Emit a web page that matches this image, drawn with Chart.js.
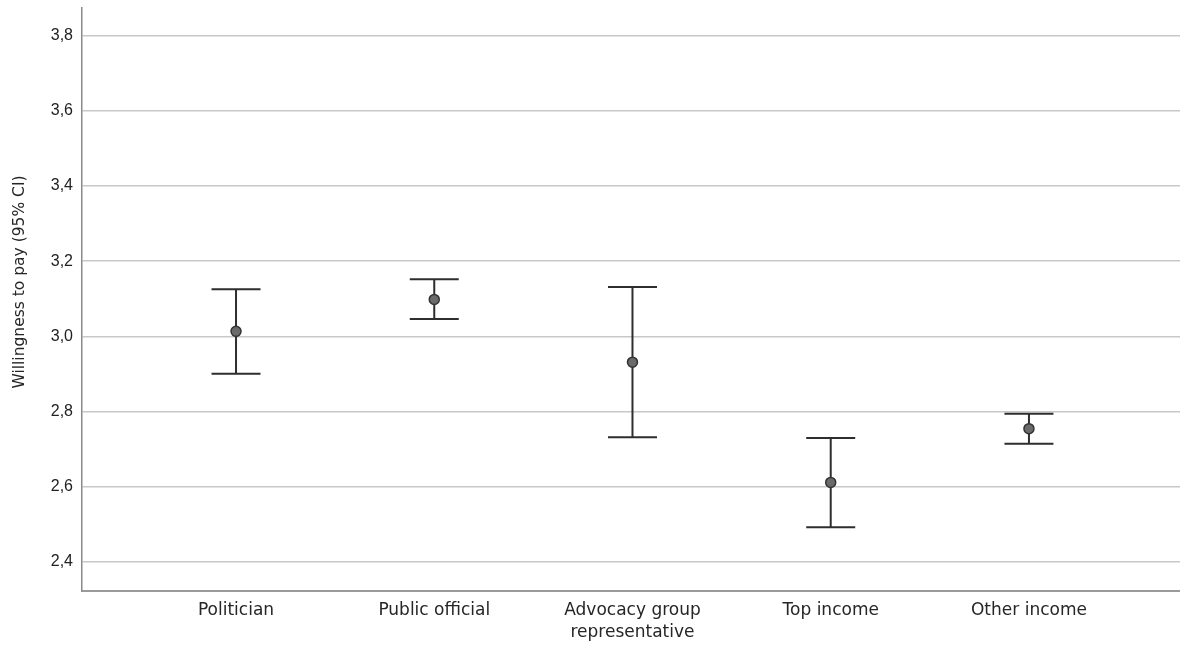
<!DOCTYPE html>
<html>
<head>
<meta charset="utf-8">
<script src="https://cdn.jsdelivr.net/npm/chart.js@4/dist/chart.umd.min.js"></script>
<style>
  html, body { margin: 0; padding: 0; background: #ffffff; }
  #wrap { width: 1180px; height: 648px; position: relative; }
</style>
</head>
<body>
<div id="wrap"><canvas id="c" width="1180" height="648"></canvas></div>
<script>
// Groups along the x axis (multi-line labels as arrays)
const categories = [
  ['Politician'],
  ['Public official'],
  ['Advocacy group', 'representative'],
  ['Top income'],
  ['Other income']
];
// Mean willingness to pay and 95% confidence bounds per group
const means = [3.013, 3.098, 2.931, 2.611, 2.754];
const lowerCI = [2.900, 3.046, 2.731, 2.492, 2.714];
const upperCI = [3.125, 3.152, 3.131, 2.729, 2.794];
// Y axis tick values
const yTicks = [2.4, 2.6, 2.8, 3.0, 3.2, 3.4, 3.6, 3.8];
const yTitle = 'Willingness to pay (95% CI)';

const LABEL_FONT = '"DejaVu Sans", sans-serif';
const TICK_FONT = '"Liberation Sans", Arial, sans-serif';

// Whiskers with end caps drawn under the mean markers
const errorBars = {
  id: 'errorBars',
  beforeDatasetsDraw(chart) {
    const { ctx, scales } = chart;
    const xs = scales.x, ys = scales.y;
    const capHalf = 24.5;
    ctx.save();
    ctx.strokeStyle = '#2e2e2e';
    ctx.lineWidth = 2;
    ctx.lineCap = 'butt';
    means.forEach((m, i) => {
      const x = xs.getPixelForValue(i);
      const yLo = ys.getPixelForValue(lowerCI[i]);
      const yHi = ys.getPixelForValue(upperCI[i]);
      ctx.beginPath();
      ctx.moveTo(x, yHi);
      ctx.lineTo(x, yLo);
      ctx.moveTo(x - capHalf, yHi);
      ctx.lineTo(x + capHalf, yHi);
      ctx.moveTo(x - capHalf, yLo);
      ctx.lineTo(x + capHalf, yLo);
      ctx.stroke();
    });
    ctx.restore();
  }
};

new Chart(document.getElementById('c'), {
  type: 'scatter',
  data: {
    datasets: [{
      data: means.map((m, i) => ({ x: i, y: m })),
      pointRadius: 5,
      pointHoverRadius: 5,
      pointBackgroundColor: '#6a6a6a',
      pointBorderColor: '#333333',
      pointBorderWidth: 1.5
    }]
  },
  options: {
    responsive: false,
    animation: false,
    layout: { autoPadding: false, padding: { top: 7.5, right: 0, left: 0, bottom: 0 } },
    plugins: {
      legend: { display: false },
      tooltip: { enabled: false }
    },
    scales: {
      x: {
        type: 'linear',
        min: -0.777,
        max: 4.762,
        afterBuildTicks(scale) {
          scale.ticks = categories.map((c, i) => ({ value: i }));
        },
        afterFit(scale) {
          scale.height = 57;
          scale.paddingLeft = 0;
          scale.paddingRight = 0;
        },
        grid: { display: false, drawTicks: false },
        border: { display: true, color: '#9a9a9a', width: 2 },
        ticks: {
          padding: 9,
          color: '#262626',
          autoSkip: false,
          maxRotation: 0,
          font: { family: LABEL_FONT, size: 17, lineHeight: 1.27 },
          callback: (v) => categories[v]
        }
      },
      y: {
        type: 'linear',
        min: 2.322,
        max: 3.875,
        afterBuildTicks(scale) {
          scale.ticks = yTicks.map(v => ({ value: v }));
        },
        afterFit(scale) {
          scale.width = 82;
          scale.paddingTop = 0;
          scale.paddingBottom = 0;
        },
        grid: { color: '#c8c8c8', lineWidth: 1.5, drawTicks: false },
        border: { display: true, color: '#8a8a8a', width: 1.5 },
        ticks: {
          padding: 9,
          color: '#222222',
          font: { family: TICK_FONT, size: 16 },
          callback: (v) => v.toFixed(1).replace('.', ',')
        },
        title: {
          display: true,
          // leading spaces nudge the rotated title upward along the axis
          text: '       ' + yTitle,
          color: '#262626',
          font: { family: LABEL_FONT, size: 15.5 },
          padding: { top: 11, bottom: 0 }
        }
      }
    }
  },
  plugins: [errorBars]
});
</script>
</body>
</html>
